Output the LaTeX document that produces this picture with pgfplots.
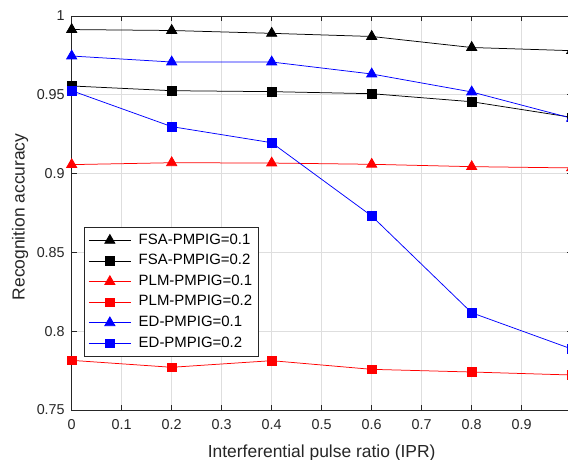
\documentclass[border=0pt]{standalone}
\usepackage{pgfplots}
\pgfplotsset{compat=1.18}
\usepackage{fontspec}
\setmainfont{Liberation Sans}
\usetikzlibrary{calc}

\definecolor{axisgray}{gray}{0.15}
\definecolor{gridgray}{gray}{0.87}

% legend sample: a longer line with the marker in its middle
\pgfplotsset{
  longline legend/.style={
    legend image code/.code={
      \draw[mark repeat=2,mark phase=2]
        plot coordinates {(0bp,0bp) (21bp,0bp) (42bp,0bp)};
    }
  },
  tri/.style={mark=triangle*, mark size=5.9pt, line width=0.75bp},
  sqr/.style={mark=square*, mark size=4.3pt, line width=0.75bp},
}

\begin{document}
\begin{tikzpicture}
\begin{axis}[
  scale only axis,
  width=500bp, height=394bp,
  xmin=0, xmax=1, ymin=0.75, ymax=1,
  xtick={0,0.1,0.2,0.3,0.4,0.5,0.6,0.7,0.8,0.9},
  ytick={0.75,0.8,0.85,0.9,0.95,1},
  tick pos=both, tick align=inside,
  major tick length=5bp,
  grid=major,
  major grid style={gridgray, line width=0.6bp},
  axis line style={axisgray, line width=0.7bp},
  tick style={axisgray, line width=0.6bp},
  /pgf/number format/assume math mode=true,
  /pgf/number format/fixed,
  ticklabel style={font=\fontsize{14.4}{16}\selectfont, text=axisgray},
  xticklabel style={yshift=-6bp},
  yticklabel style={xshift=-3.5bp},
  xlabel={Interferential pulse ratio (IPR)},
  ylabel={Recognition accuracy},
  every axis x label/.style={at={(rel axis cs:0.5,0)}, yshift=-47.5bp,
    anchor=base, font=\fontsize{17.5}{20}\selectfont, text=axisgray},
  every axis y label/.style={at={(rel axis cs:0,0.49)}, xshift=-51.7bp,
    rotate=90, anchor=center, font=\fontsize{17.5}{20}\selectfont, text=axisgray},
  longline legend,
  legend cell align=left,
  legend style={at={(0.025,0.465)}, anchor=north west,
    draw=axisgray, line width=0.6bp, fill=white,
    font=\fontsize{15}{17}\selectfont,
    inner xsep=4bp, inner ysep=3bp,
    nodes={inner sep=2.5bp, text height=11.6bp, text depth=4bp},
    /tikz/every even column/.append style={column sep=6bp},
    /tikz/every odd column/.append style={column sep=5bp}},
]
\coordinate (sw) at (rel axis cs:0,0);
\coordinate (ne) at (rel axis cs:1,1);

\addplot[black, tri] coordinates {
  (0,0.9914) (0.2,0.9908) (0.4,0.9890) (0.6,0.9870) (0.8,0.9800) (1,0.9780)};
\addlegendentry{FSA-PMPIG=0.1}
\addplot[black, sqr] coordinates {
  (0,0.9556) (0.2,0.9526) (0.4,0.9520) (0.6,0.9507) (0.8,0.9456) (1,0.9357)};
\addlegendentry{FSA-PMPIG=0.2}
\addplot[red, tri] coordinates {
  (0,0.9057) (0.2,0.9069) (0.4,0.9067) (0.6,0.9059) (0.8,0.9044) (1,0.9036)};
\addlegendentry{PLM-PMPIG=0.1}
\addplot[red, sqr] coordinates {
  (0,0.7815) (0.2,0.7771) (0.4,0.7813) (0.6,0.7758) (0.8,0.7741) (1,0.7722)};
\addlegendentry{PLM-PMPIG=0.2}
\addplot[blue, tri] coordinates {
  (0,0.9746) (0.2,0.9708) (0.4,0.9708) (0.6,0.9632) (0.8,0.9518) (1,0.9351)};
\addlegendentry{ED-PMPIG=0.1}
\addplot[blue, sqr] coordinates {
  (0,0.9526) (0.2,0.9298) (0.4,0.9196) (0.6,0.8731) (0.8,0.8117) (1,0.7887)};
\addlegendentry{ED-PMPIG=0.2}
\end{axis}
\pgfresetboundingbox
\path ($(sw)+(-71.7bp,-50bp)$) rectangle ($(ne)+(-3.7bp,16bp)$);
\end{tikzpicture}
\end{document}
